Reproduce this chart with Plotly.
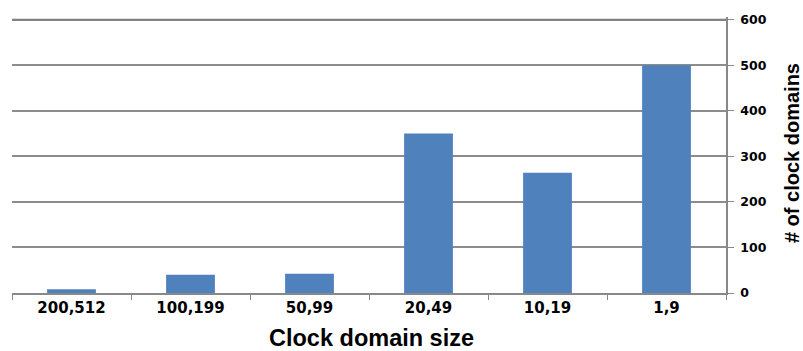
import plotly.graph_objects as go

categories = ["200,512", "100,199", "50,99", "20,49", "10,19", "1,9"]
counts = [8, 40, 42, 350, 264, 500]
y_ticks = [0, 100, 200, 300, 400, 500, 600]

fig = go.Figure()
fig.add_trace(go.Bar(x=categories, y=counts, marker=dict(color="#4F81BD", line=dict(width=0)), width=0.41))

# top gridline (plotly omits it otherwise)
fig.add_hline(y=y_ticks[-1], line=dict(color="#808080", width=2), layer="above")

L, R, T, B = 12, 77, 14, 58
W, H = 803, 351

fig.update_layout(
    width=W, height=H,
    margin=dict(l=L, r=R, t=T, b=B),
    paper_bgcolor="white", plot_bgcolor="white",
    showlegend=False,
    font=dict(family="DejaVu Sans", color="black"),
    xaxis=dict(
        type="category", tickson="boundaries", ticks="outside", ticklen=5, tickcolor="#888888",
        showline=True, linecolor="#888888", linewidth=1.5, showgrid=False,
        tickfont=dict(family="DejaVu Sans", size=15, weight="bold"),
    ),
    yaxis=dict(
        side="right", range=[0, 606], tickvals=y_ticks, ticks="outside", ticklen=6, tickcolor="#888888",
        showline=True, linecolor="#888888", linewidth=1.5, ticklabelstandoff=4,
        showgrid=True, gridcolor="#8c8c8c", gridwidth=1.5, zeroline=False,
        tickfont=dict(family="DejaVu Sans", size=12.5, weight="bold"),
    ),
    annotations=[
        dict(text="Clock domain size", xref="paper", yref="paper", x=0.503, y=-0.162, xanchor="center", yanchor="middle",
             showarrow=False, font=dict(family="Liberation Sans", size=23.5, weight="bold")),
        dict(text="# of clock domains", xref="paper", yref="paper", x=1.0, xshift=66, y=0.507, textangle=-90,
             xanchor="center", yanchor="middle", showarrow=False,
             font=dict(family="Liberation Sans", size=20, weight="bold")),
    ],
)

fig.write_html("out.html")
